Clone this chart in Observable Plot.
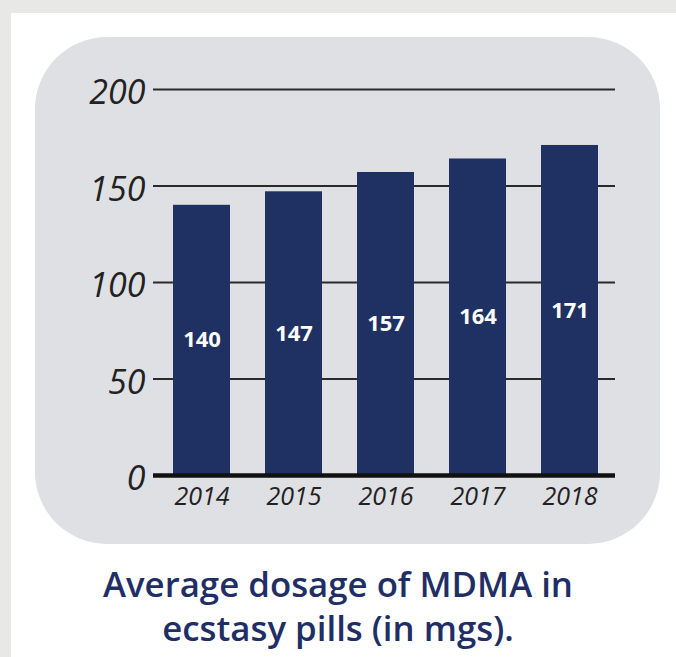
<!DOCTYPE html>
<html>
<head>
<meta charset="utf-8">
<script src="https://cdn.jsdelivr.net/npm/d3@7"></script>
<script src="https://cdn.jsdelivr.net/npm/@observablehq/plot@0.6"></script>
<style>
  html, body { margin: 0; padding: 0; }
  body { width: 676px; height: 657px; background: #e8e8e6; position: relative; overflow: hidden; font-family: "Open Sans", sans-serif; }
  #panel { position: absolute; left: 11px; top: 13px; width: 665px; height: 644px; background: #ffffff; }
  #card { position: absolute; left: 35px; top: 37px; width: 625px; height: 507px; background: #dfe0e3; border-radius: 72px; }
  #chart { position: absolute; left: 0; top: 0; }
  #chart svg { background: transparent !important; }
  #chart g[aria-label="y-axis tick label"] text,
  #chart g[aria-label="x-axis tick label"] text { font-style: italic; }
  #title { position: absolute; left: 0; top: 562px; width: 676px; text-align: center; color: #1f2f66; font-family: "Open Sans", sans-serif; font-weight: 600; font-size: 34.8px; line-height: 44px; }
</style>
</head>
<body>
<div id="panel"></div>
<div id="card"></div>
<div id="chart"></div>
<div id="title">Average dosage of MDMA in<br>ecstasy pills (in mgs).</div>
<script>
const years = ["2014", "2015", "2016", "2017", "2018"];
const dosage = [140, 147, 157, 164, 171];
const yTicks = [0, 50, 100, 150, 200];
const gridLines = [50, 100, 150, 200];

const data = years.map((y, i) => ({year: y, value: dosage[i]}));

const chart = Plot.plot({
  width: 676,
  height: 545,
  marginLeft: 153,
  marginRight: 61,
  marginTop: 89,
  marginBottom: 70,
  style: {background: "transparent", fontFamily: "Open Sans, sans-serif", color: "#222"},
  x: {domain: years, range: [155, 617], padding: 0.38, paddingOuter: 0.2},
  y: {domain: [0, 200]},
  marks: [
    Plot.ruleY(gridLines, {stroke: "#2a2a2a", strokeWidth: 2.2}),
    Plot.barY(data, {x: "year", y: "value", fill: "#1f3163"}),
    Plot.ruleY([0], {stroke: "#111", strokeWidth: 4.5}),
    Plot.text(data, {x: "year", y: d => d.value / 2, text: d => String(d.value), fill: "white", fontSize: 22, fontWeight: 700}),
    Plot.axisY({ticks: yTicks, tickSize: 0, tickPadding: 8, fontSize: 34, fontWeight: 400, dy: 4, fill: "#222", label: null}),
    Plot.axisX({tickSize: 0, tickPadding: 12, fontSize: 25, fill: "#222", label: null})
  ]
});
document.getElementById("chart").appendChild(chart);
</script>
</body>
</html>
